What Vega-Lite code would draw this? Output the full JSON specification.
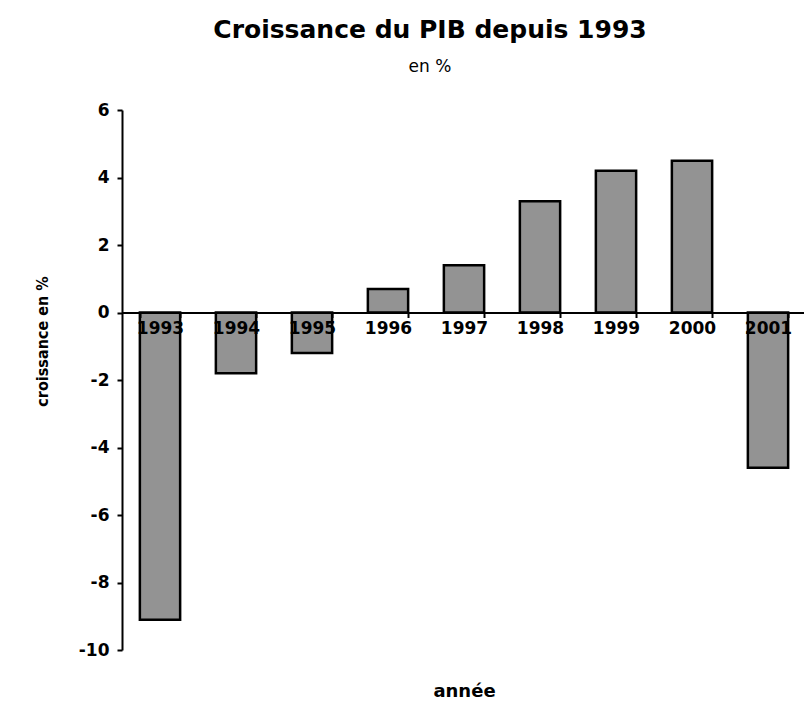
{
  "$schema": "https://vega.github.io/schema/vega-lite/v6.json",
  "autosize": "none",
  "width": 684,
  "height": 540,
  "padding": {"left": 122, "top": 110, "right": 0, "bottom": 52},
  "background": "white",
  "title": {
    "text": "Croissance du PIB depuis 1993",
    "subtitle": "en %",
    "font": "DejaVu Sans",
    "fontWeight": "bold",
    "fontSize": 25,
    "subtitleFont": "DejaVu Sans",
    "subtitleFontSize": 17,
    "subtitleColor": "black",
    "subtitlePadding": 16,
    "color": "black",
    "offset": 26,
    "anchor": "middle",
    "dx": -34
  },
  "data": {
    "values": [
      {"annee": "1993", "croissance": -9.1},
      {"annee": "1994", "croissance": -1.8},
      {"annee": "1995", "croissance": -1.2},
      {"annee": "1996", "croissance": 0.7},
      {"annee": "1997", "croissance": 1.4},
      {"annee": "1998", "croissance": 3.3},
      {"annee": "1999", "croissance": 4.2},
      {"annee": "2000", "croissance": 4.5},
      {"annee": "2001", "croissance": -4.6}
    ]
  },
  "mark": {"type": "bar", "fill": "#939393", "stroke": "black", "strokeWidth": 2.5},
  "encoding": {
    "x": {
      "field": "annee",
      "type": "nominal",
      "sort": null,
      "scale": {"paddingInner": 0.47, "paddingOuter": 0.235},
      "axis": {
        "zindex": 1,
        "title": "année",
        "titleFont": "DejaVu Sans",
        "titleFontSize": 18,
        "titleFontWeight": "bold",
        "titleColor": "black",
        "titleY": 384,
        "titleBaseline": "alphabetic",
        "offset": -337.5,
        "labelAngle": 0,
        "labelFont": "DejaVu Sans",
        "labelFontSize": 17,
        "labelFontWeight": "bold",
        "labelColor": "black",
        "labelPadding": 3,
        "domainColor": "black",
        "domainWidth": 2,
        "tickColor": "black",
        "tickBand": "extent",
        "tickSize": 5,
        "tickWidth": 2
      }
    },
    "y": {
      "field": "croissance",
      "type": "quantitative",
      "scale": {"domain": [-10, 6], "nice": false},
      "axis": {
        "title": "croissance en %",
        "titleFont": "DejaVu Sans Condensed, Liberation Sans",
        "titleFontSize": 16,
        "titleFontWeight": "bold",
        "titleColor": "black",
        "titleAngle": 270,
        "titleX": -80,
        "titleY": 231,
        "titleAlign": "center",
        "titleBaseline": "middle",
        "values": [-10, -8, -6, -4, -2, 0, 2, 4, 6],
        "labelExpr": "toString(datum.value)",
        "grid": false,
        "labelFont": "DejaVu Sans",
        "labelFontSize": 17,
        "labelFontWeight": "bold",
        "labelColor": "black",
        "labelPadding": 8,
        "domainColor": "black",
        "domainWidth": 2,
        "tickColor": "black",
        "tickSize": 5,
        "tickWidth": 2
      }
    }
  },
  "config": {"view": {"stroke": null}}
}
